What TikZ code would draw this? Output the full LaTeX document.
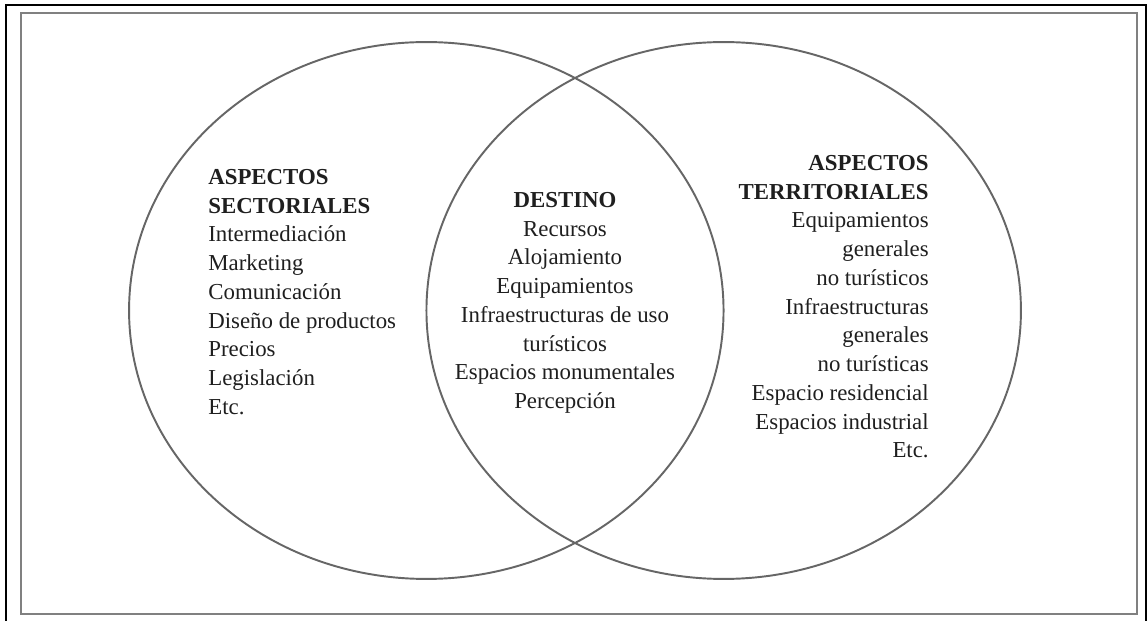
\documentclass[tikz,border=0pt]{standalone}
\usepackage{fontspec}
\setmainfont{Liberation Serif}
\usetikzlibrary{shapes.geometric}
\begin{document}
\begin{tikzpicture}[x=0.02cm,y=-0.02cm,
  ring/.style={ellipse,draw=black!60,line width=1.1pt,inner sep=0pt,
    minimum width=11.892cm,minimum height=10.74cm},
  txt/.style={inner sep=0pt,text=black!88,font=\fontsize{13}{16.35}\selectfont}]
\useasboundingbox (0,0) rectangle (1147,621);
\fill[white] (0,0) rectangle (1147,621);
% frames
\draw[black,line width=1.2pt] (6,625) -- (6,5) -- (1146,5) -- (1146,625);
\draw[black!50,line width=0.9pt] (21,13) rectangle (1137,614);
% ellipses
\node[ring] (L) at (426.3,310.5) {};
\node[ring] (R) at (723.7,310.5) {};
% texts
\node[txt,anchor=north west,align=left] (sect) at (208,169)
 {\textbf{ASPECTOS}\\ \textbf{SECTORIALES}\\ Intermediación\\ Marketing\\ Comunicación\\ Diseño de productos\\ Precios\\ Legislación\\ Etc.};
\node[txt,anchor=north,align=center] (dest) at (565,192)
 {\textbf{DESTINO}\\ Recursos\\ Alojamiento\\ Equipamientos\\ Infraestructuras de uso\\ turísticos\\ Espacios monumentales\\ Percepción};
\node[txt,anchor=north east,align=right] (terr) at (929,155)
 {\textbf{ASPECTOS}\\ \textbf{TERRITORIALES}\\ Equipamientos\\ generales\\ no turísticos\\ Infraestructuras\\ generales\\ no turísticas\\ Espacio residencial\\ Espacios industrial\\ Etc.};
\end{tikzpicture}
\end{document}
